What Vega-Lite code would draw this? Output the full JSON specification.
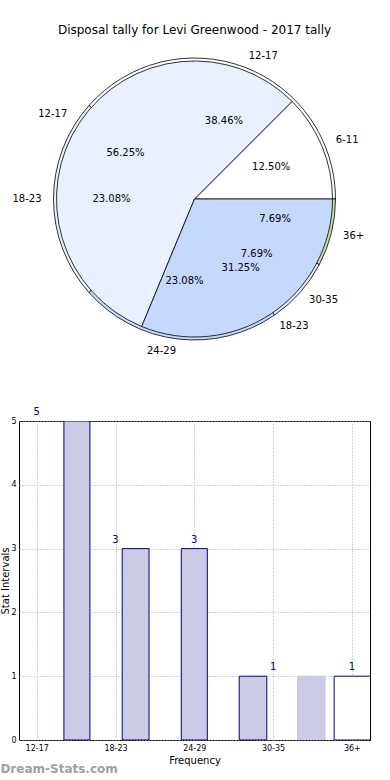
{
  "$schema": "https://vega.github.io/schema/vega-lite/v6.json",
  "padding": {"top": 24, "left": 0, "right": 0, "bottom": 0},
  "background": "white",
  "bounds": "flush",
  "spacing": 72,
  "config": {
    "font": "DejaVu Sans",
    "view": {"stroke": null},
    "title": {"font": "DejaVu Sans", "fontWeight": "normal", "color": "black"}
  },
  "title": {"text": "Dream-Stats.com", "orient": "bottom", "anchor": "start", "frame": "bounds", "fontSize": 12, "fontWeight": "bold", "color": "#a0a0a0", "offset": -2},
  "datasets": {
    "pie1": [
      {"cat": "6-11", "n": 2, "o": 1, "pct": "12.50%"},
      {"cat": "12-17", "n": 9, "o": 2, "pct": "56.25%"},
      {"cat": "18-23", "n": 5, "o": 3, "pct": "31.25%"}
    ],
    "pie2": [
      {"cat": "12-17", "n": 5, "o": 1, "pct": "38.46%"},
      {"cat": "18-23", "n": 3, "o": 2, "pct": "23.08%"},
      {"cat": "24-29", "n": 3, "o": 3, "pct": "23.08%"},
      {"cat": "30-35", "n": 1, "o": 4, "pct": "7.69%"},
      {"cat": "36+", "n": 1, "o": 5, "pct": "7.69%"}
    ],
    "bars": [
      {"lo": 0.345, "hi": 0.675, "v": 5, "kind": "filled"},
      {"lo": 1.085, "hi": 1.425, "v": 3, "kind": "filled"},
      {"lo": 1.835, "hi": 2.165, "v": 3, "kind": "filled"},
      {"lo": 2.57, "hi": 2.92, "v": 1, "kind": "filled"},
      {"lo": 3.31, "hi": 3.66, "v": 1, "kind": "faded"},
      {"lo": 3.775, "hi": 4.5, "v": 1, "kind": "outline"}
    ],
    "counts": [
      {"i": 0, "v": 5},
      {"i": 1, "v": 3},
      {"i": 2, "v": 3},
      {"i": 3, "v": 1},
      {"i": 4, "v": 1}
    ]
  },
  "vconcat": [
    {
      "width": 351,
      "height": 300,
      "title": {"text": "Disposal tally for Levi Greenwood - 2017 tally", "fontSize": 12, "offset": 12},
      "layer": [
        {
          "data": {"name": "pie2"},
          "mark": {"type": "arc", "radius": 141, "stroke": "black", "strokeWidth": 0.8},
          "encoding": {
            "theta": {"field": "n", "type": "quantitative", "stack": true, "scale": {"range": [1.5708, -4.7124]}},
            "order": {"field": "o", "type": "quantitative"},
            "fill": {"field": "cat", "type": "nominal", "legend": null,
              "scale": {"domain": ["12-17", "18-23", "24-29", "30-35", "36+"], "range": ["#ffffff", "#eaf0ff", "#c5d8ff", "#dfe9f5", "#c8df9c"]}}
          }
        },
        {
          "data": {"name": "pie1"},
          "mark": {"type": "arc", "radius": 138, "stroke": "black", "strokeWidth": 0.8},
          "encoding": {
            "theta": {"field": "n", "type": "quantitative", "stack": true, "scale": {"range": [1.5708, -4.7124]}},
            "order": {"field": "o", "type": "quantitative"},
            "fill": {"field": "cat", "type": "nominal", "legend": null,
              "scale": {"domain": ["6-11", "12-17", "18-23"], "range": ["#ffffff", "#eaf0ff", "#c5d8ff"]}}
          }
        },
        {
          "data": {"name": "pie2"},
          "encoding": {
            "theta": {"field": "n", "type": "quantitative", "stack": true, "scale": {"range": [1.5708, -4.7124]}},
            "order": {"field": "o", "type": "quantitative"}
          },
          "layer": [
            {
              "mark": {"type": "text", "radius": 83, "fontSize": 10, "color": "black"},
              "encoding": {"text": {"field": "pct"}}
            },
            {
              "mark": {"type": "text", "radius": 153, "fontSize": 10, "align": "left", "baseline": "middle", "color": "black"},
              "encoding": {"text": {"field": "cat"},
                "opacity": {"condition": {"test": "indexof(['12-17','30-35','36+'], datum.cat) >= 0", "value": 1}, "value": 0}}
            },
            {
              "mark": {"type": "text", "radius": 153, "fontSize": 10, "align": "right", "baseline": "middle", "color": "black"},
              "encoding": {"text": {"field": "cat"},
                "opacity": {"condition": {"test": "indexof(['18-23','24-29'], datum.cat) >= 0", "value": 1}, "value": 0}}
            }
          ]
        },
        {
          "data": {"name": "pie1"},
          "encoding": {
            "theta": {"field": "n", "type": "quantitative", "stack": true, "scale": {"range": [1.5708, -4.7124]}},
            "order": {"field": "o", "type": "quantitative"}
          },
          "layer": [
            {
              "mark": {"type": "text", "radius": 83, "fontSize": 10, "color": "black"},
              "encoding": {"text": {"field": "pct"}}
            },
            {
              "mark": {"type": "text", "radius": 153, "fontSize": 10, "align": "left", "baseline": "middle", "color": "black"},
              "encoding": {"text": {"field": "cat"},
                "opacity": {"condition": {"test": "indexof(['6-11','18-23'], datum.cat) >= 0", "value": 1}, "value": 0}}
            },
            {
              "mark": {"type": "text", "radius": 153, "fontSize": 10, "align": "right", "baseline": "middle", "color": "black"},
              "encoding": {"text": {"field": "cat"},
                "opacity": {"condition": {"test": "datum.cat === '12-17'", "value": 1}, "value": 0}}
            }
          ]
        }
      ],
      "resolve": {"scale": {"theta": "independent", "fill": "independent"}}
    },
    {
      "width": 351,
      "height": 319,
      "view": {"stroke": "black", "strokeWidth": 1},
      "layer": [
        {
          "data": {"name": "bars"},
          "mark": {"type": "bar", "clip": true, "strokeWidth": 1},
          "encoding": {
            "x": {"field": "lo", "type": "quantitative",
              "scale": {"domain": [-0.225, 4.23], "nice": false, "zero": false},
              "axis": {"values": [0, 1, 2, 3, 4], "labelExpr": "['12-17','18-23','24-29','30-35','36+'][datum.value]",
                "title": "Frequency", "titleFontSize": 10, "titleFontWeight": "normal", "titlePadding": 3,
                "labelFontSize": 8, "labelPadding": 4, "ticks": false, "domain": false,
                "grid": true, "gridDash": [1, 2], "gridColor": "#a8a8a8", "gridWidth": 1, "labelColor": "black", "titleColor": "black"}},
            "x2": {"field": "hi"},
            "y": {"field": "v", "type": "quantitative",
              "scale": {"domain": [0, 5], "nice": false},
              "axis": {"values": [0, 1, 2, 3, 4, 5], "format": "d", "title": "Stat Intervals", "titleFontSize": 10, "titleFontWeight": "normal", "titlePadding": 0,
                "labelFontSize": 8, "labelPadding": 3, "ticks": false, "domain": false,
                "grid": true, "gridDash": [1, 2], "gridColor": "#a8a8a8", "gridWidth": 1, "labelColor": "black", "titleColor": "black"}},
            "y2": {"datum": 0},
            "fill": {"field": "kind", "type": "nominal", "legend": null,
              "scale": {"domain": ["filled", "faded", "outline"], "range": ["#cbcbe6", "#cbcbe6", "#ffffff"]}},
            "stroke": {"field": "kind", "type": "nominal", "legend": null,
              "scale": {"domain": ["filled", "faded", "outline"], "range": ["#000080", "#cbcbe6", "#000080"]}}
          }
        },
        {
          "data": {"name": "counts"},
          "mark": {"type": "text", "fontSize": 10, "color": "#000080", "dy": -9, "baseline": "middle"},
          "encoding": {
            "x": {"field": "i", "type": "quantitative"},
            "y": {"field": "v", "type": "quantitative"},
            "text": {"field": "v", "type": "quantitative"}
          }
        }
      ],
      "resolve": {"scale": {"fill": "independent", "stroke": "independent"}}
    }
  ]
}
